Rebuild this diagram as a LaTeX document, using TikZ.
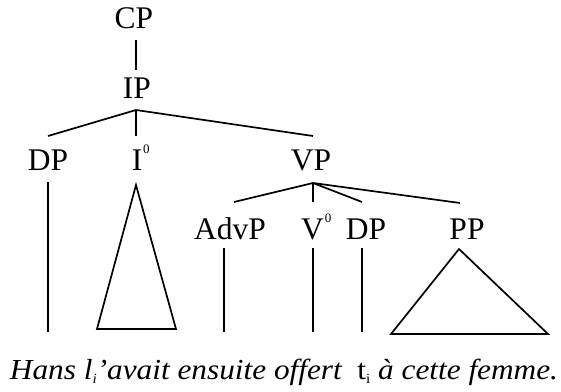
\documentclass[tikz,border=0pt]{standalone}
\usepackage{fontspec}
\usepackage{graphicx}
\setmainfont{Liberation Serif}
\newcommand\supzero{\rlap{\hspace{1pt}\raisebox{17pt}{\fontsize{13}{13}\selectfont 0}}}
\newcommand\subtiny[1]{\raisebox{-4.5pt}{\fontsize{14}{14}\selectfont #1}}
\begin{document}
\begin{tikzpicture}[x=1pt,y=-1pt,
  lab/.style={anchor=base,inner sep=0pt,font=\fontsize{31.5}{31.5}\selectfont},
  sent/.style={anchor=base,inner sep=0pt,font=\fontsize{29}{29}\selectfont\itshape},
  br/.style={line width=1.7pt,line join=miter},
]
\useasboundingbox (0,0) rectangle (561,391);
% labels
\node[lab] (CP) at (134,28) {CP};
\node[lab] (IP) at (137,98) {IP};
\node[lab] (DPa) at (48,170) {DP};
\node[lab] (I0) at (137,170) {I\supzero};
\node[lab] (VP) at (311,170) {VP};
\node[lab] (AdvP) at (230,239) {AdvP};
\node[lab] (V0) at (312.5,239) {V\supzero};
\node[lab] (DPb) at (366,239) {DP};
\node[lab] (PP) at (467,239) {PP};
\node[sent] (S) at (284,379) {\resizebox{548pt}{\height}{Hans l\subtiny{\itshape i}’avait ensuite offert\ \ \upshape t\subtiny{i} \itshape à cette femme.}};
% branch points
\coordinate (cpb) at (136,40);
\coordinate (ipt) at (136,70);
\coordinate (ipb) at (136,110);
\coordinate (dpat) at (48,136);
\coordinate (i0t) at (136,136);
\coordinate (vpt) at (313,136);
\coordinate (vpb) at (313,183);
\coordinate (advt) at (234,202);
\coordinate (v0t) at (313,202);
\coordinate (dpbt) at (362,202);
\coordinate (ppt) at (460,203);
% lower parts
\coordinate (dpab) at (48,182);
\coordinate (dpaf) at (48,332);
\coordinate (tri1a) at (136,185);
\coordinate (tri1l) at (97,329);
\coordinate (tri1r) at (176,329);
\coordinate (advb) at (224,248);
\coordinate (advf) at (224,332);
\coordinate (v0b) at (313,248);
\coordinate (v0f) at (313,332);
\coordinate (dpbb) at (362,248);
\coordinate (dpbf) at (362,332);
\coordinate (tri2a) at (459,249);
\coordinate (tri2l) at (391,334);
\coordinate (tri2r) at (548,334);
% edges
\draw[br] (cpb) -- (ipt);
\draw[br] (ipb) -- (dpat);
\draw[br] (ipb) -- (i0t);
\draw[br] (ipb) -- (vpt);
\draw[br] (vpb) -- (advt);
\draw[br] (vpb) -- (v0t);
\draw[br] (vpb) -- (dpbt);
\draw[br] (vpb) -- (ppt);
\draw[br] (dpab) -- (dpaf);
\draw[br] (tri1a) -- (tri1l) -- (tri1r) -- cycle;
\draw[br] (advb) -- (advf);
\draw[br] (v0b) -- (v0f);
\draw[br] (dpbb) -- (dpbf);
\draw[br] (tri2a) -- (tri2l) -- (tri2r) -- cycle;
\end{tikzpicture}
\end{document}
